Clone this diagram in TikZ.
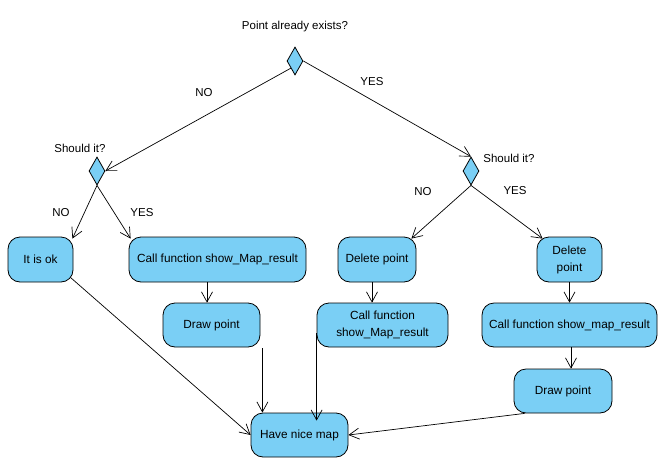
\documentclass[tikz,border=0pt]{standalone}
\usepackage{fontspec}
\setmainfont{Liberation Sans}
\usetikzlibrary{arrows.meta,shapes.geometric,calc}
\definecolor{boxblue}{RGB}{122,207,245}
\begin{document}
\begin{tikzpicture}[x=1pt,y=-1pt,
  box/.style={draw=black, fill=boxblue, rounded corners=12pt, line width=0.8pt, inner sep=0pt, align=center, font=\fontsize{11.8}{17}\selectfont},
  dec/.style={draw=black, fill=boxblue, diamond, inner sep=0pt, minimum width=16pt, minimum height=28pt, line width=0.8pt},
  lbl/.style={font=\fontsize{11.5}{14}\selectfont, inner sep=0pt},
  arr/.style={-{Straight Barb[length=10pt,width=11pt]}, line width=0.7pt},
]
\useasboundingbox (0,0) rectangle (664,469);

% decisions
\node[dec] (d1) at (295,61) {};
\node[dec] (d2) at (97,171) {};
\node[dec] (d3) at (471,171) {};

% actions
\node[box, minimum width=65pt, minimum height=45pt] (ok) at (40.5,259.5) {It is ok};
\node[box, minimum width=177pt, minimum height=45pt] (cf1) at (217.5,259.5) {Call function show\_Map\_result};
\node[box, minimum width=78pt, minimum height=45pt] (del1) at (377,259.5) {Delete point};
\node[box, minimum width=65pt, minimum height=45pt] (del2) at (569.5,259.5) {Delete\\point};
\node[box, minimum width=97pt, minimum height=44pt] (dp1) at (211.5,325) {Draw point};
\node[box, minimum width=131pt, minimum height=44pt] (cf2) at (382.5,325) {Call function\\show\_Map\_result};
\node[box, minimum width=175pt, minimum height=44pt] (cf3) at (569.5,325) {Call function show\_map\_result};
\node[box, minimum width=98pt, minimum height=44pt] (dp2) at (563,391) {Draw point};
\node[box, minimum width=97pt, minimum height=44pt] (nice) at (299.5,435) {Have nice map};

% labels
\node[lbl] (t1) at (295,27) {Point already exists?};
\node[lbl] (t2) at (80,148) {Should it?};
\node[lbl] (t3) at (509,158) {Should it?};
\node[lbl] (n1) at (204,93) {NO};
\node[lbl] (y1) at (372,82) {YES};
\node[lbl] (n2) at (61,213) {NO};
\node[lbl] (y2) at (142,213) {YES};
\node[lbl] (n3) at (423,192) {NO};
\node[lbl] (y3) at (515,191) {YES};

% connectors
\draw[arr] (d1.south west) -- (d2.east);
\draw[arr] (d1.east) -- (d3.north);
\draw[arr] (d2.south) -- ([xshift=-1pt,yshift=-2pt]ok.north east);
\draw[arr] (d2.south) -- ([xshift=2pt,yshift=-2pt]cf1.north west);
\draw[arr] (d3.south) -- ([xshift=-5pt,yshift=-2pt]del1.north east);
\draw[arr] (d3.south) -- ([xshift=6pt,yshift=-2pt]del2.north west);
\draw[arr] ([xshift=-4.5pt]dp1.north |- cf1.south) -- ([xshift=-4.5pt]dp1.north);
\draw[arr] ([xshift=-5pt]del1.south) -- ([xshift=-5pt]del1.south |- cf2.north);
\draw[arr] (del2.south) -- (del2.south |- cf3.north);
\draw[arr] ([xshift=1.5pt]cf3.south) -- ([xshift=1.5pt]cf3.south |- dp2.north);
\draw[arr] ([xshift=2pt,yshift=-1pt]dp1.south east) -- ([xshift=2pt]dp1.south east |- nice.north);
\draw[arr] ([yshift=-8pt]cf2.west) -- ([yshift=-8pt]cf2.west |- nice.north);
\draw[arr] ([xshift=-3pt,yshift=5pt]ok.south east) -- (nice.west);
\draw[arr] ([xshift=11pt]dp2.south west) -- (nice.east);
\end{tikzpicture}
\end{document}
